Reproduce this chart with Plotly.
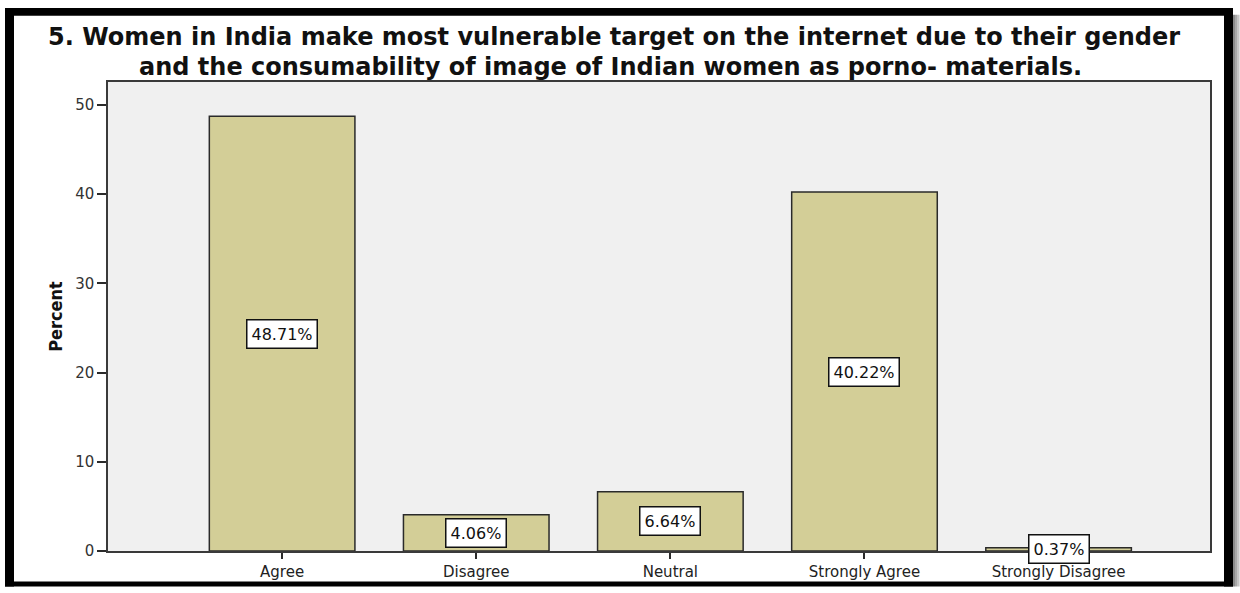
import plotly.graph_objects as go

categories = ["Agree", "Disagree", "Neutral", "Strongly Agree", "Strongly Disagree"]
percents = [48.71, 4.06, 6.64, 40.22, 0.37]
y_ticks = [0, 10, 20, 30, 40, 50]
title_line1 = "5. Women in India make most vulnerable target on the internet due to their gender"
title_line2 = "and the consumability of image of Indian women as porno- materials."

W, H = 1240, 593
L, R, T, B = 108, 30, 82, 36
pw, ph = W - L - R, H - T - B


def px(x):
    return (x - L) / pw


def py(y):
    return (H - B - y) / ph


fig = go.Figure()
fig.add_trace(go.Bar(
    x=categories, y=percents, width=0.75,
    marker=dict(color="#d3ce97", line=dict(color="#2a2a2a", width=1.5)),
    hoverinfo="skip",
))

for c, v in zip(categories, percents):
    fig.add_annotation(
        x=c, y=v / 2, xref="x", yref="y", text=f"{v:.2f}%", showarrow=False,
        bgcolor="white", bordercolor="#111111", borderwidth=1.5, borderpad=4,
        font=dict(family="DejaVu Sans", size=16, color="#111111"),
    )

fig.add_annotation(x=px(614), y=py(36), xref="paper", yref="paper", text=title_line1,
                   showarrow=False, xanchor="center", yanchor="middle",
                   font=dict(family="DejaVu Sans", size=24, color="#111111", weight="bold"))
fig.add_annotation(x=px(610), y=py(67), xref="paper", yref="paper", text=title_line2,
                   showarrow=False, xanchor="center", yanchor="middle",
                   font=dict(family="DejaVu Sans", size=24, color="#111111", weight="bold"))

# outer frame (filled bands) and right-hand shadow
frame = [
    (5, 14, 7, 593),      # left
    (5, 1233, 7, 15),     # top
    (1224, 1233, 7, 593), # right
    (5, 1233, 588, 593),  # bottom
]
for x0, x1, y0, y1 in frame:
    fig.add_shape(type="rect", xref="paper", yref="paper",
                  x0=px(x0), x1=px(x1), y0=py(y1), y1=py(y0),
                  line=dict(width=0), fillcolor="black", layer="above")
for i, col in enumerate(["#8a8a8a", "#a8a8a8", "#c4c4c4", "#dedede"]):
    fig.add_shape(type="rect", xref="paper", yref="paper",
                  x0=px(1233 + i * 2), x1=px(1235 + i * 2), y0=py(593), y1=py(14),
                  line=dict(width=0), fillcolor=col, layer="above")

fig.update_layout(
    width=W, height=H,
    margin=dict(l=L, r=R, t=T, b=B),
    paper_bgcolor="white", plot_bgcolor="#f0f0f0",
    showlegend=False, bargap=0.25,
    xaxis=dict(
        range=[-0.897, 4.78], showgrid=False, zeroline=False,
        showline=True, linecolor="#3a3a3a", linewidth=1.5, mirror=True,
        ticks="outside", ticklen=6, tickcolor="#2a2a2a", tickwidth=2,
        ticklabelstandoff=0,
        tickfont=dict(family="DejaVu Sans", size=15, color="#222222"),
    ),
    yaxis=dict(
        range=[0, 52.55], tickvals=y_ticks, showgrid=False, zeroline=False,
        showline=True, linecolor="#3a3a3a", linewidth=1.5, mirror=True,
        ticks="outside", ticklen=9, tickcolor="#2a2a2a", tickwidth=1.5,
        tickfont=dict(family="DejaVu Sans", size=15, color="#333333"),
        title=dict(text="Percent", standoff=8,
                   font=dict(family="Liberation Sans Narrow, DejaVu Sans Condensed", size=18,
                             color="#111111", weight="bold")),
    ),
)

fig.write_html("out.html")
